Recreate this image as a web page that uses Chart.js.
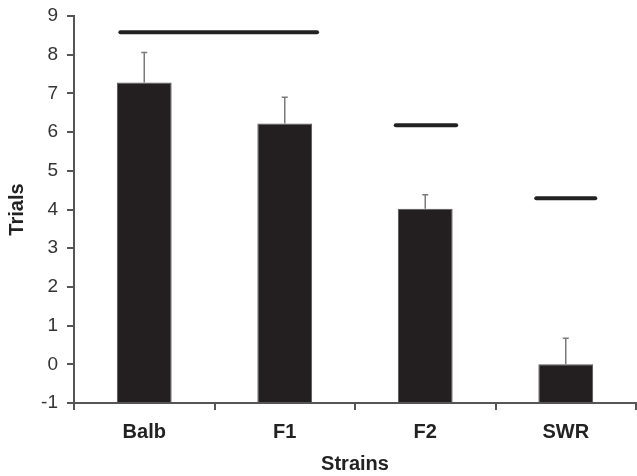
<!DOCTYPE html>
<html>
<head>
<meta charset="utf-8">
<script src="https://cdn.jsdelivr.net/npm/chart.js@4.4.0/dist/chart.umd.min.js"></script>
<style>
  html, body { margin: 0; padding: 0; background: #fff; }
  #wrap { width: 637px; height: 476px; }
</style>
</head>
<body>
<div id="wrap"><canvas id="trialsChart" width="637" height="476"></canvas></div>
<script>
// data
const strains = ['Balb', 'F1', 'F2', 'SWR'];
const trials = [7.28, 6.22, 4.02, 0.0];
const errUpper = [8.06, 6.9, 4.38, 0.67];
const yTicks = [-1, 0, 1, 2, 3, 4, 5, 6, 7, 8, 9];
// significance bars: start/end in category units, height in trials
const sigFrom = [-0.17, 1.79, 2.79];
const sigTo = [1.23, 2.22, 3.21];
const sigLevel = [8.58, 6.18, 4.29];

document.addEventListener("DOMContentLoaded", function() {
    const ctx = document.getElementById('trialsChart').getContext('2d');

    // error whiskers (upper only) and the horizontal lines over the bars
    const extrasPlugin = {
        id: 'extras',
        afterDatasetsDraw(chart) {
            const x = chart.scales.x, y = chart.scales.y;
            const c = chart.ctx;
            c.save();
            c.strokeStyle = '#7a7a7a';
            c.lineWidth = 1.5;
            errUpper.forEach(function(v, i) {
                const px = x.getPixelForValue(i);
                c.beginPath();
                c.moveTo(px, y.getPixelForValue(trials[i]));
                c.lineTo(px, y.getPixelForValue(v));
                c.moveTo(px - 3, y.getPixelForValue(v));
                c.lineTo(px + 3, y.getPixelForValue(v));
                c.stroke();
            });
            c.strokeStyle = '#222';
            c.lineWidth = 4;
            c.lineCap = 'round';
            sigLevel.forEach(function(v, i) {
                const py = y.getPixelForValue(v);
                c.beginPath();
                c.moveTo(x.getPixelForValue(sigFrom[i]), py);
                c.lineTo(x.getPixelForValue(sigTo[i]), py);
                c.stroke();
            });
            c.restore();
        }
    };

    new Chart(ctx, {
        type: 'bar',
        data: {
            labels: strains,
            datasets: [{
                data: trials,
                base: -1,
                backgroundColor: '#231f20',
                borderColor: '#555',
                borderWidth: 1,
                barPercentage: 0.39,
                categoryPercentage: 1.0
            }]
        },
        options: {
            responsive: false,
            animation: false,
            layout: { padding: { top: 16, right: 1, left: 0, bottom: 0 } },
            plugins: {
                legend: { display: false },
                tooltip: { enabled: false }
            },
            scales: {
                x: {
                    grid: { offset: true, drawOnChartArea: false, drawTicks: true, tickLength: 7, color: '#555', lineWidth: 2 },
                    border: { color: '#555', width: 2 },
                    ticks: { color: '#222', padding: 10, font: { family: 'Liberation Sans, Arial', size: 20, weight: 'bold' } },
                    title: { display: true, text: 'Strains', color: '#222', padding: { top: 0, bottom: 0 },
                             font: { family: 'Liberation Sans, Arial', size: 20, weight: 'bold' } },
                    afterFit: function(scale) { scale.height = 73; }
                },
                y: {
                    min: -1,
                    max: 9,
                    afterBuildTicks: function(scale) {
                        scale.ticks = yTicks.map(function(v) { return { value: v }; });
                    },
                    grid: { drawOnChartArea: false, drawTicks: true, tickLength: 7, color: '#555', lineWidth: 2 },
                    border: { color: '#555', width: 2 },
                    ticks: { color: '#333', padding: 9, font: { family: 'Liberation Sans, Arial', size: 19 } },
                    title: { display: true, text: 'Trials', color: '#222', padding: { top: 5, bottom: 0 },
                             font: { family: 'Liberation Sans, Arial', size: 20, weight: 'bold' } },
                    afterFit: function(scale) {
                        scale.width = 74;
                        scale.paddingTop = 0;
                        scale.paddingBottom = 0;
                    }
                }
            }
        },
        plugins: [extrasPlugin, {
            id: 'whiteBg',
            beforeDraw(chart) {
                const c = chart.ctx;
                c.save();
                c.fillStyle = '#fff';
                c.fillRect(0, 0, chart.width, chart.height);
                c.restore();
            }
        }]
    });
});
</script>
</body>
</html>
